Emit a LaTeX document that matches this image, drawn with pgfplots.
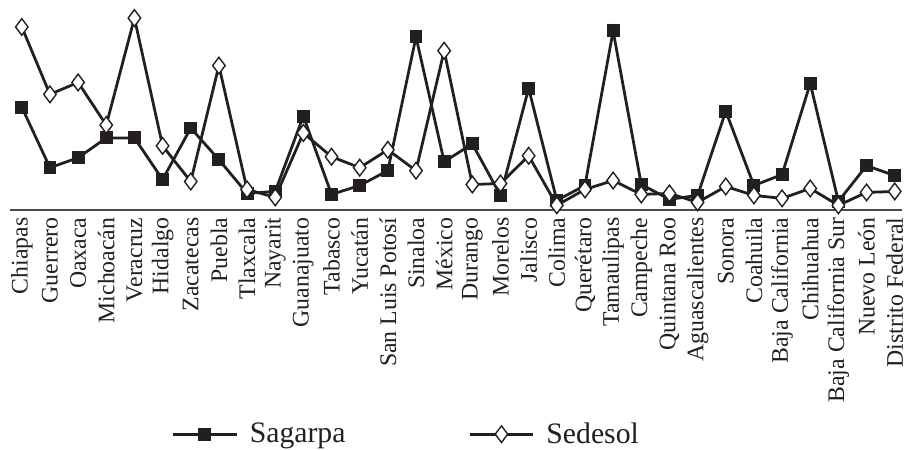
\documentclass[border=0pt]{standalone}
\usepackage{fontspec}
\setmainfont{Liberation Serif}
\usepackage{pgfplots}
\pgfplotsset{compat=1.18}
\definecolor{ink}{HTML}{231F20}
\definecolor{base}{HTML}{4A4A4A}
\pgfplotsset{longleg/.style={legend image code/.code={\draw[mark repeat=2,mark phase=2,##1] plot coordinates {(0pt,0pt) (16pt,0pt) (32pt,0pt)};}}}
\begin{document}
\begin{tikzpicture}
\begin{axis}[
  scale only axis,
  width=455pt, height=106pt,
  xmin=-0.774, xmax=31.246,
  ymin=0, ymax=212,
  clip=false,
  axis line style={draw=none},
  major tick length=0pt,
  ytick=\empty,
  xtick={0,...,31},
  xticklabels={Chiapas,Guerrero,Oaxaca,Michoacán,Veracruz,Hidalgo,Zacatecas,Puebla,Tlaxcala,Nayarit,Guanajuato,Tabasco,Yucatán,San Luis Potosí,Sinaloa,México,Durango,Morelos,Jalisco,Colima,Querétaro,Tamaulipas,Campeche,Quintana Roo,Aguascalientes,Sonora,Coahuila,Baja California,Chihuahua,Baja California Sur,Nuevo León,Distrito Federal},
  xticklabel style={rotate=90, anchor=east, font=\fontsize{12}{12}\selectfont, text=ink, inner sep=3.5pt},
  legend columns=2,
  legend style={at={(axis cs:5.31,-226)}, anchor=west, draw=none, fill=none, inner sep=0pt,
    font=\fontsize{15}{15}\selectfont, text=ink,
    /tikz/every odd column/.append style={column sep=4pt},
    /tikz/every even column/.append style={column sep=60pt}},
]
\addplot[base, line width=0.9pt, forget plot] coordinates {(-0.42,0) (31.25,0)};
\addplot[ink, line width=1.4pt, mark=square*, mark size=3pt, mark options={fill=ink, draw=ink, line width=0.5pt}, longleg] coordinates {
(0,104) (1,43) (2,53) (3,73) (4,73) (5,31) (6,83) (7,51) (8,17) (9,19)
(10,95) (11,16) (12,25) (13,40) (14,175) (15,49) (16,67) (17,15) (18,123) (19,10)
(20,25) (21,181) (22,26) (23,11) (24,15) (25,100) (26,25) (27,36) (28,128) (29,9)
(30,45) (31,35)};
\addlegendentry{Sagarpa}
\addplot[ink, line width=1.4pt, mark=diamond*, mark size=4.2pt, mark options={fill=white, draw=ink, line width=0.7pt}, longleg] coordinates {
(0,185) (1,117) (2,129) (3,86) (4,194) (5,65) (6,29) (7,146) (8,21) (9,13)
(10,78) (11,54) (12,43) (13,61) (14,40) (15,161) (16,26) (17,27) (18,55) (19,5)
(20,21) (21,30) (22,16) (23,17) (24,8) (25,24) (26,15) (27,12) (28,22) (29,5)
(30,18) (31,19)};
\addlegendentry{Sedesol}
\end{axis}
\end{tikzpicture}
\end{document}
